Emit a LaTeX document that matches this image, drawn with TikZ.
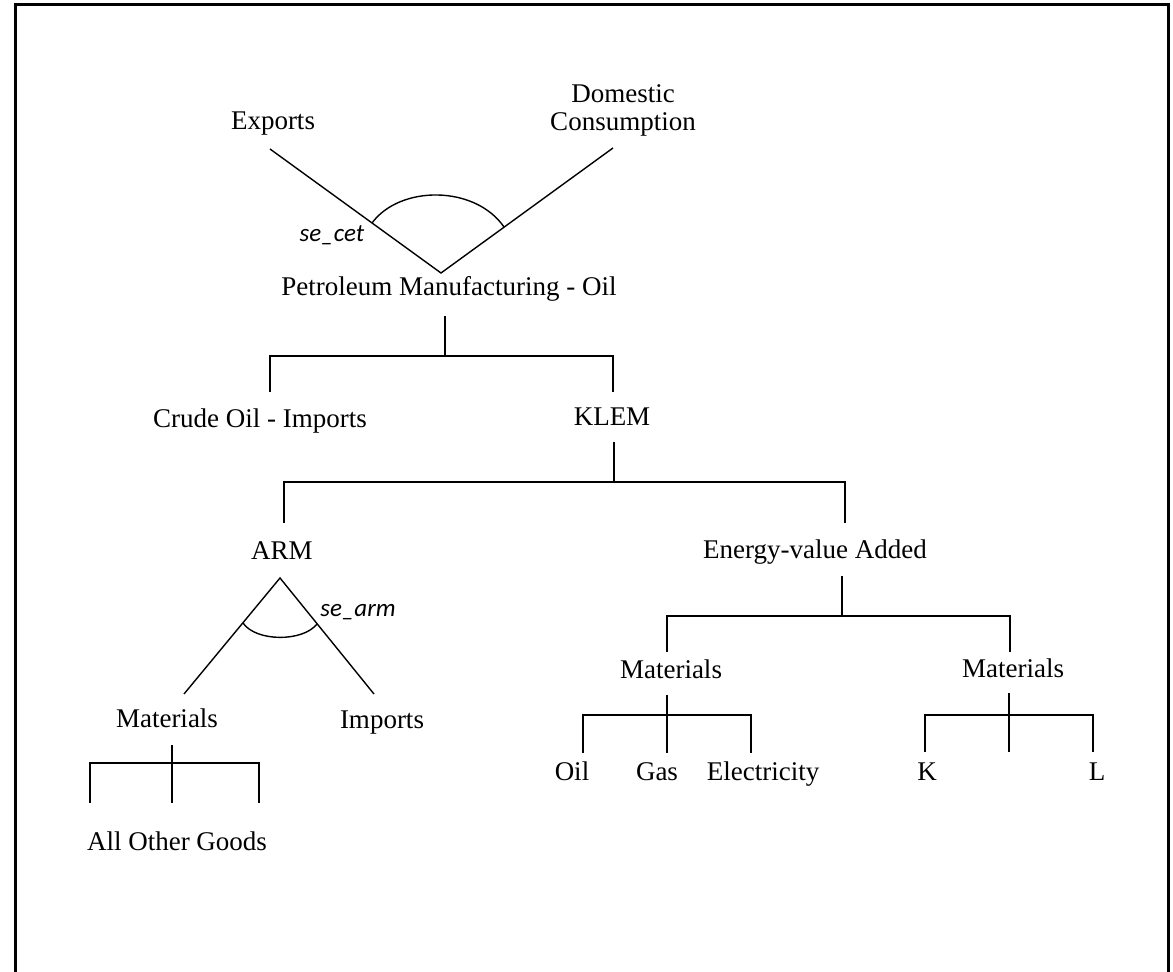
\documentclass[tikz,border=0pt]{standalone}
\usepackage{fontspec}
\setmainfont{Liberation Serif}
\newfontfamily\labelfont{Carlito}
\begin{document}
\begin{tikzpicture}[x=0.5pt,y=-0.5pt,
  lbl/.style={inner sep=0pt,font=\fontsize{13.5}{14}\selectfont,text height=0.68em,text depth=0.22em,yshift=-1.5pt},
  elab/.style={inner sep=0pt,font=\labelfont\itshape\fontsize{12.5}{13}\selectfont,text height=0.68em,text depth=0.22em,yshift=-1pt},
  ln/.style={line width=0.7pt},
  frame/.style={line width=1.5pt}]
\useasboundingbox (0,0) rectangle (1173,972);
\draw[frame] (15,972) -- (15,5) -- (1168,5) -- (1168,972);

% text nodes
\node[lbl] (exp) at (273,122) {Exports};
\node[inner sep=0pt,font=\fontsize{13.5}{14}\selectfont,align=center] (dom) at (623,110) {Domestic\\Consumption};
\node[elab] (secet) at (332,235) {se\_cet};
\node[lbl] (pm) at (449,288) {Petroleum Manufacturing - Oil};
\node[lbl] (crude) at (260,420) {Crude Oil - Imports};
\node[lbl] (klem) at (612,418) {KLEM};
\node[lbl] (arm) at (282,552) {ARM};
\node[lbl] (eva) at (815,551) {Energy-value Added};
\node[elab] (searm) at (358,610) {se\_arm};
\node[lbl] (matl) at (167,720) {Materials};
\node[lbl] (imp) at (382,721) {Imports};
\node[lbl] (aog) at (177,843) {All Other Goods};
\node[lbl] (matm) at (671,671) {Materials};
\node[lbl] (oil) at (572,773) {Oil};
\node[lbl] (gas) at (657,773) {Gas};
\node[lbl] (elec) at (763,773) {Electricity};
\node[lbl] (matr) at (1013,670) {Materials};
\node[lbl] (k) at (927,773) {K};
\node[lbl] (l) at (1097,773) {L};

% CET nest
\coordinate (cetA) at (441,273);
\coordinate (cetL) at (270,149);
\coordinate (cetR) at (613,148);
\draw[ln] (cetL) -- (cetA) -- (cetR);
\draw[ln] (372,223) .. controls (400,185) and (475,185) .. (504,227);

% PM tree
\coordinate (pmT) at (445,316);
\coordinate (pmJ) at (445,356);
\coordinate (pmL) at (270,356);
\coordinate (pmR) at (613,356);
\coordinate (pmLb) at (270,392);
\coordinate (pmRb) at (613,392);
\draw[ln] (pmT) -- (pmJ);
\draw[ln] (pmLb) -- (pmL) -- (pmR) -- (pmRb);

% KLEM tree
\coordinate (kT) at (614,442);
\coordinate (kJ) at (614,482);
\coordinate (kL) at (284,482);
\coordinate (kR) at (845,482);
\coordinate (kLb) at (284,523);
\coordinate (kRb) at (845,523);
\draw[ln] (kT) -- (kJ);
\draw[ln] (kLb) -- (kL) -- (kR) -- (kRb);

% ARM nest
\coordinate (armA) at (280,578);
\coordinate (armL) at (184,694);
\coordinate (armR) at (374,694);
\draw[ln] (armL) -- (armA) -- (armR);
\draw[ln] (243,623) .. controls (256,642) and (303,642) .. (317,624);

% Energy-value added tree
\coordinate (eT) at (842,576);
\coordinate (eJ) at (842,616);
\coordinate (eL) at (667,616);
\coordinate (eR) at (1010,616);
\coordinate (eLb) at (667,652);
\coordinate (eRb) at (1010,652);
\draw[ln] (eT) -- (eJ);
\draw[ln] (eLb) -- (eL) -- (eR) -- (eRb);

% middle materials tree
\coordinate (mT) at (667,695);
\coordinate (mB) at (667,753);
\coordinate (mL) at (583,715);
\coordinate (mR) at (751,715);
\coordinate (mLb) at (583,753);
\coordinate (mRb) at (751,753);
\draw[ln] (mT) -- (mB);
\draw[ln] (mLb) -- (mL) -- (mR) -- (mRb);

% right materials tree
\coordinate (rT) at (1009,693);
\coordinate (rB) at (1009,752);
\coordinate (rL) at (925,715);
\coordinate (rR) at (1093,715);
\coordinate (rLb) at (925,752);
\coordinate (rRb) at (1093,752);
\draw[ln] (rT) -- (rB);
\draw[ln] (rLb) -- (rL) -- (rR) -- (rRb);

% left materials tree
\coordinate (lT) at (172,745);
\coordinate (lB) at (172,803);
\coordinate (lL) at (90,763);
\coordinate (lR) at (259,763);
\coordinate (lLb) at (90,803);
\coordinate (lRb) at (259,803);
\draw[ln] (lT) -- (lB);
\draw[ln] (lLb) -- (lL) -- (lR) -- (lRb);
\end{tikzpicture}
\end{document}
